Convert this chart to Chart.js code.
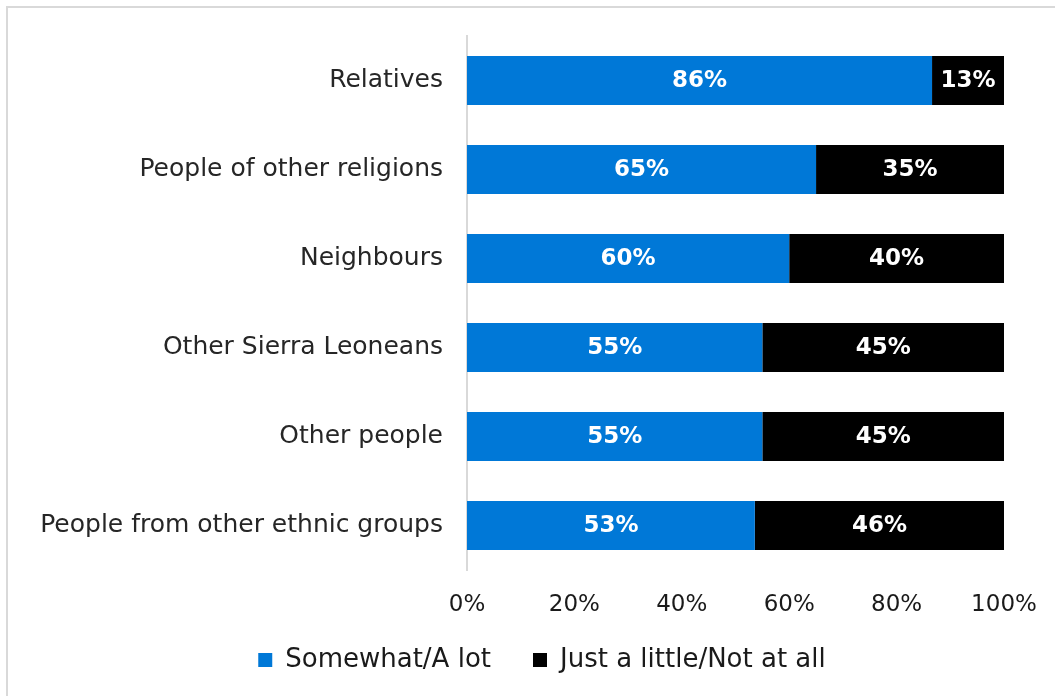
<!DOCTYPE html>
<html>
<head>
<meta charset="utf-8">
<script src="https://cdn.jsdelivr.net/npm/chart.js@4"></script>
<style>
  html, body { margin: 0; padding: 0; background: #fff; overflow: hidden; }
</style>
</head>
<body>
<canvas id="chart" width="1055" height="696"></canvas>
<script>
// Categories and values
const categories = [
  "Relatives",
  "People of other religions",
  "Neighbours",
  "Other Sierra Leoneans",
  "Other people",
  "People from other ethnic groups"
];
const somewhatALot = [86.6, 65, 60, 55, 55, 53.6];
const justALittle = [13.4, 35, 40, 45, 45, 46.4];
const seriesNames = ["Somewhat/A lot", "Just a little/Not at all"];

const fontFamily = "'DejaVu Sans', sans-serif";

// light grey frame on the top and left edge, like the original export
const frame = {
  id: "frame",
  beforeDraw(chart) {
    const ctx = chart.ctx;
    ctx.save();
    ctx.fillStyle = "#d9d9d9";
    ctx.fillRect(6, 6, chart.width - 6, 2);
    ctx.fillRect(6, 6, 2, chart.height - 6);
    ctx.restore();
  }
};

// nudge the legend right and up, the original sits off-centre
const legendNudge = {
  id: "legendNudge",
  afterLayout(chart) {
    const lg = chart.legend;
    lg.left += 40; lg.right += 40;
    lg.top -= 12; lg.bottom -= 12;
  }
};

// draws the white percentage inside each bar segment
const barLabels = {
  id: "barLabels",
  afterDatasetsDraw(chart) {
    const ctx = chart.ctx;
    ctx.save();
    ctx.fillStyle = "#ffffff";
    ctx.font = "bold 23px " + fontFamily;
    ctx.textAlign = "center";
    ctx.textBaseline = "middle";
    chart.data.datasets.forEach((ds, i) => {
      chart.getDatasetMeta(i).data.forEach((bar, j) => {
        const cx = (bar.x + bar.base) / 2;
        ctx.fillText(Math.floor(ds.data[j]) + "%", cx, bar.y + 1);
      });
    });
    ctx.restore();
  }
};

new Chart(document.getElementById("chart"), {
  type: "bar",
  data: {
    labels: categories,
    datasets: [
      {
        label: seriesNames[0],
        data: somewhatALot,
        backgroundColor: "#0078d7",
        borderWidth: 0,
        barPercentage: 0.55,
        categoryPercentage: 1
      },
      {
        label: seriesNames[1],
        data: justALittle,
        backgroundColor: "#000000",
        borderWidth: 0,
        barPercentage: 0.55,
        categoryPercentage: 1
      }
    ]
  },
  options: {
    indexAxis: "y",
    responsive: false,
    animation: false,
    layout: { padding: { top: 36, right: 51, left: 0, bottom: 1 } },
    scales: {
      x: {
        stacked: true,
        min: 0,
        max: 100,
        ticks: {
          stepSize: 20,
          callback: v => v + "%",
          color: "#1a1a1a",
          font: { family: fontFamily, size: 23 },
          padding: 21
        },
        grid: { display: false, drawTicks: false },
        border: { display: false },
        afterFit(scale) {
          scale.height = 47;
          scale.paddingLeft = 0;
          scale.paddingRight = 0;
        }
      },
      y: {
        stacked: true,
        ticks: {
          color: "#262626",
          font: { family: fontFamily, size: 25 },
          padding: 24
        },
        grid: { display: false, drawTicks: false },
        border: { display: true, color: "#d9d9d9", width: 2 },
        afterFit(scale) {
          scale.width = 467;
          scale.paddingTop = 0;
          scale.paddingBottom = 0;
        }
      }
    },
    plugins: {
      legend: {
        position: "bottom",
        labels: {
          boxWidth: 14,
          boxHeight: 14,
          padding: 42,
          color: "#1a1a1a",
          font: { family: fontFamily, size: 26 }
        }
      },
      tooltip: { enabled: false }
    }
  },
  plugins: [frame, legendNudge, barLabels]
});
</script>
</body>
</html>
